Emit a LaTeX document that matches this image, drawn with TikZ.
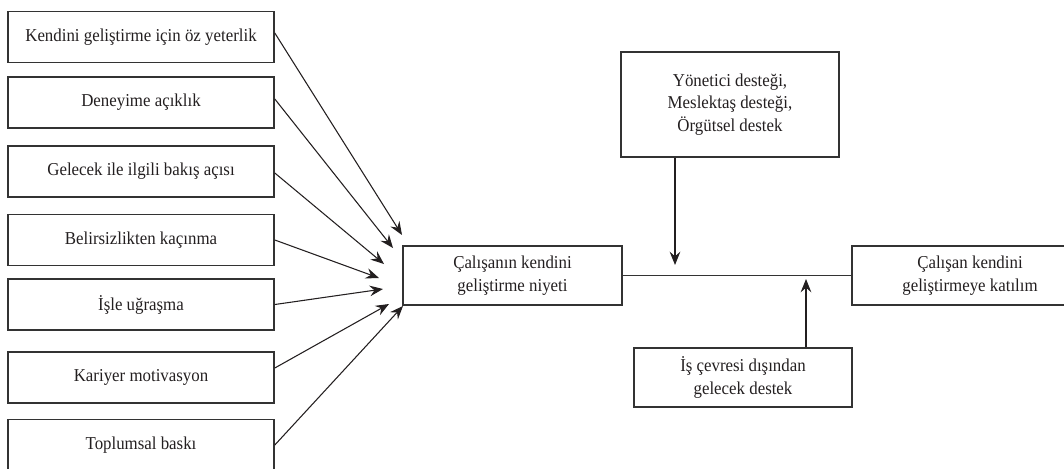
\documentclass[tikz,border=0pt]{standalone}
\usepackage{fontspec}
\setmainfont[FakeStretch=0.93]{Liberation Serif}
\usetikzlibrary{arrows.meta,calc}
\definecolor{ink}{HTML}{231F20}
\definecolor{edge}{HTML}{333333}
\tikzset{
  box/.style={draw=edge, line width=1.2pt, inner sep=0pt, align=center, text=ink,
    font=\fontsize{13.6pt}{16.9pt}\selectfont},
  lbox/.style={box, minimum width=199.5pt, minimum height=38pt},
  arr/.style={draw=ink, line width=0.8pt, -{Stealth[length=10pt,width=8pt,inset=3.5pt]}},
  link/.style={draw=edge, line width=1.2pt}
}
\begin{document}
\begin{tikzpicture}[x=0.75pt,y=-0.75pt]
\useasboundingbox (0,0) rectangle (1064,468);
\clip (0,0) rectangle (1064,468);
% left boxes
\node[lbox] (b1) at (141,37) {Kendini geliştirme için öz yeterlik};
\node[lbox] (b2) at (141,102.5) {Deneyime açıklık};
\node[lbox] (b3) at (141,171.5) {Gelecek ile ilgili bakış açısı};
\node[lbox] (b4) at (141,240) {Belirsizlikten kaçınma};
\node[lbox] (b5) at (141,304.5) {İşle uğraşma};
\node[lbox] (b6) at (141,377.5) {Kariyer motivasyon};
\node[lbox] (b7) at (141,445) {Toplumsal baskı};
% central and other boxes
\node[box, minimum width=164.25pt, minimum height=44.25pt] (c) at (512.5,275.5) {Çalışanın kendini\\geliştirme niyeti};
\node[box, minimum width=163.5pt, minimum height=78.75pt] (t) at (730,104.5) {Yönetici desteği,\\Meslektaş desteği,\\Örgütsel destek};
\node[box, minimum width=177pt, minimum height=44.25pt] (r) at (970,275.5) {Çalışan kendini\\geliştirmeye katılım};
\node[box, minimum width=163.5pt, minimum height=44.25pt] (bt) at (743,377.5) {İş çevresi dışından\\gelecek destek};
% arrow tips
\coordinate (t1) at (402,235);
\coordinate (t2) at (393,248);
\coordinate (t3) at (384,264);
\coordinate (t4) at (379,278);
\coordinate (t5) at (383,289);
\coordinate (t6) at (389,304);
\coordinate (t7) at (403,306);
\draw[arr] ($(b1.east)+(0,-4)$) -- (t1);
\draw[arr] ($(b2.east)+(0,-3.5)$) -- (t2);
\draw[arr] ($(b3.east)+(0,1.5)$) -- (t3);
\draw[arr] (b4.east) -- (t4);
\draw[arr] (b5.east) -- (t5);
\draw[arr] ($(b6.east)+(0,-9.5)$) -- (t6);
\draw[arr] (b7.east) -- (t7);
% main link
\draw[link] (c.east) -- (r.west);
% moderators
\coordinate (d1) at (675,265);
\coordinate (u1) at (806,279);
\draw[arr] (t.south -| d1) -- (d1);
\draw[arr] (bt.north -| u1) -- (u1);
\end{tikzpicture}
\end{document}
